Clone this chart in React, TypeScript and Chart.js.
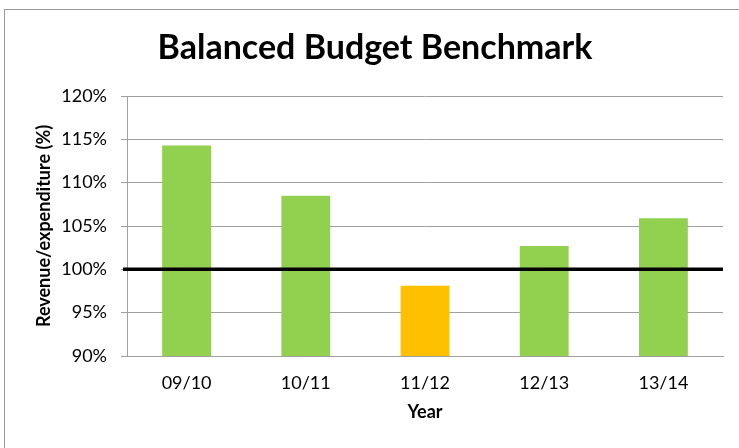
import React, { useEffect, useRef } from "react";
import { Chart, registerables } from "chart.js";

Chart.register(...registerables);

const categories = ["09/10", "10/11", "11/12", "12/13", "13/14"];
const ratioValues = [114.3, 108.5, 98.1, 102.7, 105.9];
const yTicks = [90, 95, 100, 105, 110, 115, 120];
const BENCHMARK = 100;
const TITLE = "Balanced Budget Benchmark";
const Y_TITLE = "Revenue/expenditure (%)";
const X_TITLE = "Year";

const GREEN = "#92D050";
const ORANGE = "#FFC000";
const FONT = "Lato, 'Open Sans', sans-serif";

const benchmarkLine = {
  id: "benchmarkLine",
  afterDatasetsDraw(chart: any) {
    const { ctx, chartArea, scales } = chart;
    const y = scales.y.getPixelForValue(BENCHMARK);
    ctx.save();
    ctx.strokeStyle = "#000000";
    ctx.lineWidth = 3.5;
    ctx.beginPath();
    ctx.moveTo(chartArea.left - 4, y);
    ctx.lineTo(chartArea.right, y);
    ctx.stroke();
    ctx.restore();
  },
};

export default function App() {
  const canvasRef = useRef<HTMLCanvasElement | null>(null);

  useEffect(() => {
    if (!canvasRef.current) return;
    const chart = new Chart(canvasRef.current, {
      type: "bar",
      data: {
        labels: categories,
        datasets: [
          {
            data: ratioValues,
            backgroundColor: ratioValues.map((v) => (v < BENCHMARK ? ORANGE : GREEN)),
            borderWidth: 0,
            barPercentage: 0.41,
            categoryPercentage: 1,
          },
        ],
      },
      options: {
        animation: false,
        responsive: false,
        layout: { padding: { left: 27, right: 27, top: 0, bottom: 0 } },
        plugins: {
          legend: { display: false },
          tooltip: { enabled: false },
          title: {
            display: true,
            text: TITLE,
            color: "#000000",
            font: { family: FONT, size: 34, weight: "bold", lineHeight: 1.2 },
            padding: { top: 27.6, bottom: 27.6 },
          },
        },
        scales: {
          x: {
            afterFit(scale: any) {
              scale.height = 92;
            },
            grid: { display: false, drawTicks: false },
            border: { display: true, color: "#a0a0a0", width: 1 },
            ticks: {
              color: "#000000",
              padding: 16,
              font: { family: FONT, size: 18, lineHeight: 1.2 },
            },
            title: {
              display: true,
              text: X_TITLE,
              color: "#000000",
              font: { family: FONT, size: 18, weight: "bold", lineHeight: 1.2 },
              padding: { top: 0, bottom: 25 },
            },
          },
          y: {
            min: yTicks[0],
            max: yTicks[yTicks.length - 1],
            afterFit(scale: any) {
              scale.width = 100;
            },
            afterBuildTicks(scale: any) {
              scale.ticks = yTicks.map((v) => ({ value: v }));
            },
            grid: {
              color: "#a0a0a0",
              lineWidth: 1,
              tickLength: 6,
              tickColor: "#a0a0a0",
            },
            border: { display: true, color: "#a0a0a0", width: 1 },
            ticks: {
              color: "#000000",
              padding: 14,
              font: { family: FONT, size: 18, lineHeight: 1.2 },
              callback: (v: any) => v + "%",
            },
            title: {
              display: true,
              text: Y_TITLE,
              color: "#000000",
              font: { family: FONT, size: 18, weight: "bold", lineHeight: 1.2 },
              padding: { top: 6, bottom: 0 },
            },
          },
        },
      },
      plugins: [benchmarkLine],
    });
    return () => chart.destroy();
  }, []);

  return (
    <div
      style={{
        position: "fixed",
        left: 0,
        top: 0,
        width: 739,
        height: 448,
        overflow: "hidden",
        background: "#ffffff",
      }}
    >
      <div
        style={{
          position: "absolute",
          left: 4,
          top: 9,
          width: 760,
          height: 460,
          border: "1px solid #999999",
          boxSizing: "border-box",
        }}
      />
      <canvas
        ref={canvasRef}
        width={750}
        height={448}
        style={{ position: "absolute", left: 0, top: 0, width: 750, height: 448 }}
      />
    </div>
  );
}
